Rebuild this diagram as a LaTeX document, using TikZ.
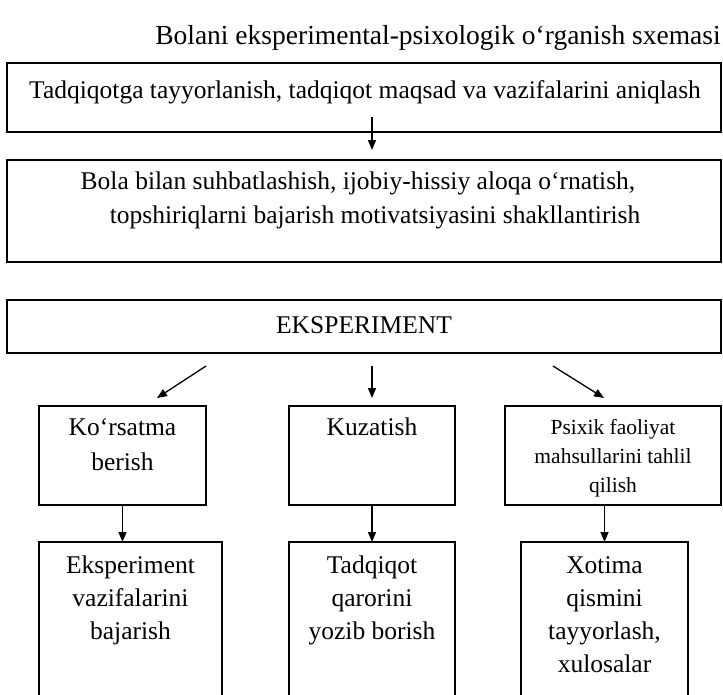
\documentclass[tikz,border=0pt]{standalone}
\usepackage{fontspec}
\setmainfont{Liberation Serif}
\usetikzlibrary{arrows.meta,calc}
\begin{document}
\begin{tikzpicture}[x=1pt,y=-1pt,
  box/.style={draw,line width=1.4pt,inner sep=0pt,outer sep=0pt,anchor=north west},
  txt/.style={anchor=base,inner sep=0pt,font=\fontsize{25.5}{25.5}\selectfont},
  smalltxt/.style={anchor=base,inner sep=0pt,font=\fontsize{21.5}{21.5}\selectfont},
  titletxt/.style={anchor=base,inner sep=0pt,font=\fontsize{27.5}{27.5}\selectfont},
  arr/.style={line width=1.3pt,-{Triangle[length=10pt,width=8pt]}}]
\useasboundingbox (0,0) rectangle (723,694);
\clip (0,0) rectangle (723,694);

% title
\node[titletxt] (title) at (438,44) {Bolani eksperimental-psixologik o‘rganish sxemasi};

% boxes
\node[box,minimum width=714pt,minimum height=69pt] (b1) at (7,63) {};
\node[box,minimum width=714pt,minimum height=102pt] (b2) at (7,160) {};
\node[box,minimum width=714pt,minimum height=53pt] (b3) at (7,300) {};
\node[box,minimum width=167pt,minimum height=99pt] (s1) at (39,406) {};
\node[box,minimum width=166pt,minimum height=99pt] (s2) at (289,406) {};
\node[box,minimum width=216pt,minimum height=99pt] (s3) at (505,406) {};
\node[box,minimum width=183pt,minimum height=200pt] (t1) at (39,542) {};
\node[box,minimum width=166pt,minimum height=200pt] (t2) at (289,542) {};
\node[box,minimum width=167pt,minimum height=200pt] (t3) at (521,542) {};

% texts
\node[txt] (b1a) at (365,98) {Tadqiqotga tayyorlanish, tadqiqot maqsad va vazifalarini aniqlash};
\node[txt] (b2a) at (358,189) {Bola bilan suhbatlashish, ijobiy-hissiy aloqa o‘rnatish,};
\node[txt] (b2b) at (375,223) {topshiriqlarni bajarish motivatsiyasini shakllantirish};
\node[txt] (b3a) at (364,333) {EKSPERIMENT};

\node[txt] (s1a) at (122.5,435) {Ko‘rsatma};
\node[txt] (s1b) at (122.5,470) {berish};
\node[txt] (s2a) at (372,435) {Kuzatish};
\node[smalltxt] (s3a) at (613,434) {Psixik faoliyat};
\node[smalltxt] (s3b) at (613,463) {mahsullarini tahlil};
\node[smalltxt] (s3c) at (613,492) {qilish};

\node[txt] (t1a) at (130.5,573) {Eksperiment};
\node[txt] (t1b) at (130.5,606) {vazifalarini};
\node[txt] (t1c) at (130.5,639) {bajarish};
\node[txt] (t2a) at (372,573) {Tadqiqot};
\node[txt] (t2b) at (372,606) {qarorini};
\node[txt] (t2c) at (372,639) {yozib borish};
\node[txt] (t3a) at (604.5,573) {Xotima};
\node[txt] (t3b) at (604.5,606) {qismini};
\node[txt] (t3c) at (604.5,639) {tayyorlash,};
\node[txt] (t3d) at (604.5,672) {xulosalar};

% arrows
\draw[arr,shorten >=10pt] ($(b1.south)+(8,-15)$) -- ($(b2.north)+(8,0)$);
\draw[arr] ($(b3.south)+(-158,13)$) -- ($(s1.north)+(34.5,-8)$);
\draw[arr] ($(b3.south)+(8,13)$) -- ($(s2.north)+(0,-8)$);
\draw[arr] ($(b3.south)+(189,13)$) -- ($(s3.north)+(-9,-8)$);
\draw[arr] (s1.south) -- (s1.south |- t1.north);
\draw[arr] (s2.south) -- (s2.south |- t2.north);
\draw[arr] (t3.north |- s3.south) -- (t3.north);
\end{tikzpicture}
\end{document}
